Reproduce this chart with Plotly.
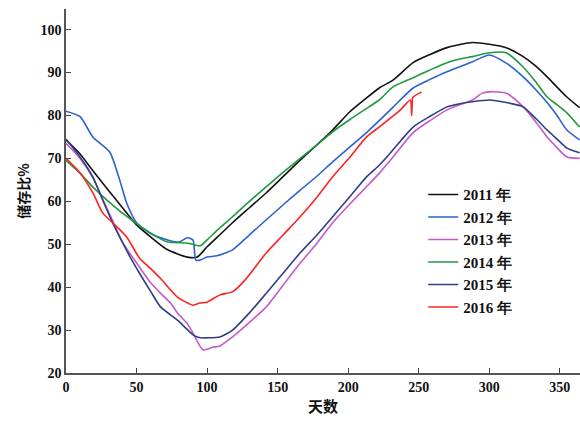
import plotly.graph_objects as go

# 2011
d2011 = [0, 10, 17, 30, 40, 50, 60, 72, 86, 93, 100, 110, 118, 130, 142, 154, 166, 178, 189, 201, 212, 222, 232, 246, 258, 270, 280, 288, 300, 312, 324, 333, 341, 348, 355, 364]
v2011 = [74.3, 71, 68, 62.6, 58.5, 54.5, 51.7, 48.7, 47, 47, 49.4, 52.5, 55, 58.5, 62, 65.8, 69.6, 73.2, 76.6, 80.8, 83.8, 86.4, 88.3, 92.3, 94.2, 95.8, 96.6, 97, 96.6, 95.8, 93.7, 91.5, 89, 86.6, 84.3, 81.8]

# 2012
d2012 = [0, 10, 19, 31, 38, 43, 50, 60, 72, 80, 86, 90, 92, 95, 100, 107, 118, 130, 142, 154, 166, 178, 189, 201, 213, 222, 232, 246, 258, 270, 288, 300, 312, 324, 333, 341, 348, 355, 364]
v2012 = [81, 79.7, 75, 71.5, 65, 59.6, 55, 52.5, 51, 50.5, 51.5, 51, 46.3, 46.3, 47, 47.3, 48.7, 52.2, 55.7, 59.2, 62.6, 65.9, 69.2, 72.6, 76, 78.8, 82, 86.4, 88.4, 90.2, 92.5, 94.1, 92.2, 89, 86, 83, 80, 76.6, 74.3]

# 2013
d2013 = [0, 10, 19, 26, 33, 40, 52, 60, 67, 74, 79, 86, 90, 97, 104, 109, 118, 130, 142, 154, 166, 178, 189, 201, 213, 222, 230, 246, 258, 270, 280, 288, 295, 300, 312, 324, 333, 341, 348, 355, 364]
v2013 = [73.5, 70, 65.5, 60.5, 55.5, 50.5, 44.7, 41, 38.6, 36.3, 34, 31.5, 29.3, 25.4, 26, 26.3, 28.4, 31.8, 35.4, 40.5, 45.6, 50.3, 55, 59.3, 63.4, 66.5, 69.6, 76, 78.8, 81.3, 82.6, 83.6, 85.2, 85.5, 85.2, 82, 78.5, 75, 72.5, 70.3, 70]

# 2014
d2014 = [0, 10, 20, 30, 45, 60, 72, 86, 95, 100, 108, 118, 130, 142, 154, 166, 178, 189, 201, 212, 222, 232, 246, 258, 270, 280, 288, 300, 312, 324, 333, 341, 348, 355, 364]
v2014 = [69.5, 66.5, 63, 60, 56, 52.6, 50.5, 50.3, 49.6, 51, 53.5, 56.4, 60, 63.4, 66.8, 70, 73.2, 76.2, 79, 81.4, 83.6, 86.7, 88.8, 90.6, 92.3, 93.2, 93.7, 94.6, 94.6, 91.3, 87.8, 84.3, 82.5, 80.6, 77.3]

# 2015
d2015 = [0, 10, 19, 26, 33, 38, 45, 52, 60, 67, 79, 90, 95, 100, 109, 118, 130, 142, 154, 166, 178, 189, 201, 213, 222, 230, 246, 258, 270, 280, 288, 300, 312, 324, 333, 341, 348, 355, 364]
v2015 = [74.5, 70.3, 65.7, 60.3, 55, 51.7, 47.3, 43.3, 39, 35.4, 32.3, 28.9, 28.2, 28.2, 28.4, 30, 34, 38.6, 43.3, 48, 52.2, 56.4, 61, 65.7, 68.4, 71.3, 77.3, 79.8, 82, 82.8, 83.2, 83.6, 83, 82, 79.3, 76.6, 74.5, 72.4, 71.3]

# 2016
d2016 = [0, 10, 19, 26, 33, 43, 52, 60, 67, 79, 90, 95, 100, 109, 118, 127, 142, 154, 166, 178, 189, 201, 213, 222, 237, 244, 245, 245.5, 246, 252]
v2016 = [70, 66.6, 62, 57.3, 55, 51.7, 46.8, 44.3, 42, 37.7, 35.8, 36.3, 36.5, 38.2, 38.9, 41.7, 48, 52.2, 56.4, 61, 65.7, 70.2, 75, 77.3, 81.3, 83.6, 80, 83.8, 84.3, 85.5]

years = ["2011 年", "2012 年", "2013 年", "2014 年", "2015 年", "2016 年"]
colors = ["#111111", "#2a62d0", "#c35ac8", "#1f9a3c", "#2e3f86", "#ff2222"]
days = [d2011, d2012, d2013, d2014, d2015, d2016]
vals = [v2011, v2012, v2013, v2014, v2015, v2016]

fig = go.Figure()
for name, c, d, v in zip(years, colors, days, vals):
    fig.add_trace(go.Scatter(x=d, y=v, mode="lines", name=name,
                             line=dict(color=c, width=1.6, shape="spline", smoothing=0.6)))

axis_font = dict(family="Liberation Serif", size=14, color="#111", weight="bold")
fig.update_layout(
    width=580, height=427,
    margin=dict(l=66, r=0, t=9, b=54),
    paper_bgcolor="white", plot_bgcolor="white",
    showlegend=True,
    legend=dict(x=0.695, y=0.535, xanchor="left", yanchor="top",
                font=dict(family="Liberation Serif", size=15, color="#111", weight="bold"),
                bgcolor="rgba(0,0,0,0)", tracegroupgap=0),
    xaxis=dict(range=[0, 364.3], tickvals=[0, 50, 100, 150, 200, 250, 300, 350],
               ticks="inside", ticklen=5, tickcolor="#444", showline=True, linecolor="#555",
               linewidth=1.5, showgrid=False, zeroline=False, tickfont=axis_font,
               title=dict(text="天数", font=dict(family="Noto Sans CJK SC", size=15, color="#111", weight="bold"), standoff=8)),
    yaxis=dict(range=[20, 104.8], tickvals=[20, 30, 40, 50, 60, 70, 80, 90, 100],
               ticks="inside", ticklen=5, tickcolor="#444", showline=True, linecolor="#555",
               linewidth=1.5, showgrid=False, zeroline=False, tickfont=axis_font,
               title=dict(text="储存比%", font=dict(family="Noto Sans CJK SC", size=14, color="#111", weight="bold"), standoff=8)),
)

fig.write_html("out.html")
